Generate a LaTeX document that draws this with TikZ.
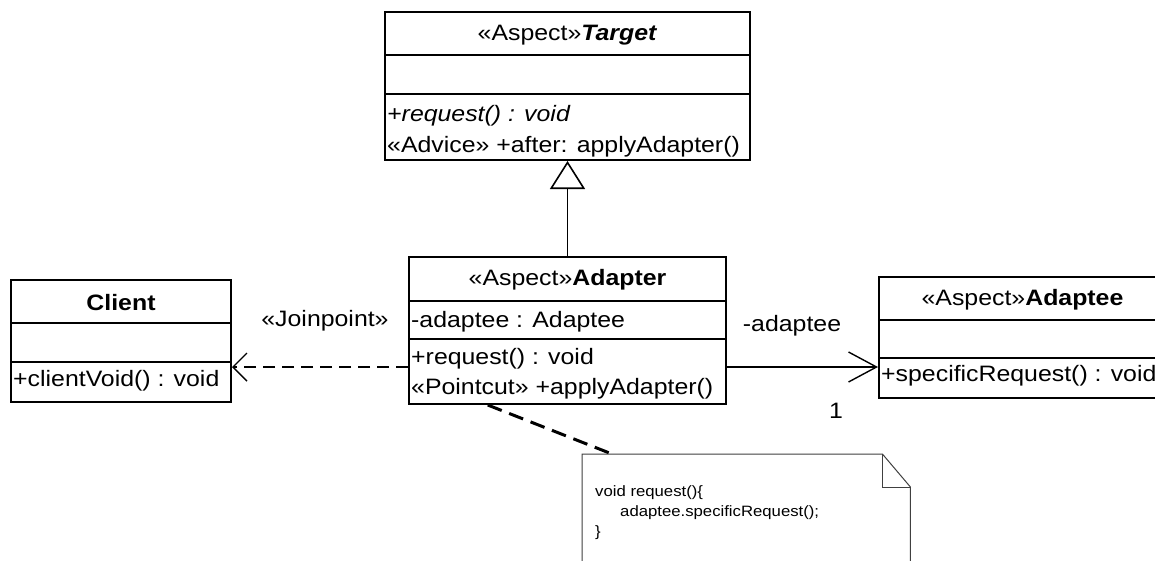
\documentclass[tikz,border=0pt]{standalone}
\usepackage{fontspec}
\setmainfont{Liberation Sans}[FakeStretch=1.115]
\usetikzlibrary{arrows.meta,calc}
\begin{document}
\begin{tikzpicture}[x=1pt,y=-1pt,
  classbox/.style={draw=black,line width=2pt,inner sep=0pt},
  divider/.style={draw=black,line width=2pt},
  lbl/.style={inner sep=0pt,font=\fontsize{22.3}{26}\selectfont},
  lblw/.style={lbl,anchor=base west},
  lblc/.style={lbl,anchor=base},
  notetxt/.style={inner sep=0pt,anchor=base west,font=\fontsize{15}{18}\selectfont},
  thinline/.style={line width=1.3pt},
  dashline/.style={line width=2.5pt,dash pattern=on 12pt off 7pt},
  notedash/.style={line width=3pt,dash pattern=on 15pt off 8pt},
  notebox/.style={draw=black!75,line width=1pt}
]
\useasboundingbox (0,0) rectangle (1155,560);
\clip (0,0) rectangle (1155,560);
\fill[white] (0,0) rectangle (1155,560);

% Target
\node[classbox,minimum width=365pt,minimum height=148pt] (target) at (567.5,86) {};
\draw[divider] ($(target.north west)+(0,44)$) -- ($(target.north east)+(0,44)$);
\draw[divider] ($(target.north west)+(0,83)$) -- ($(target.north east)+(0,83)$);
\node[lblc] (targetT) at (567.5,40) {«Aspect»\textbf{\textit{Target}}};
\node[lblw] (targetM1) at (387,121) {\textit{+request() : void}};
\node[lblw] (targetM2) at (387,152.5) {«Advice» +after: applyAdapter()};

% Adapter
\node[classbox,minimum width=317pt,minimum height=147pt] (adapter) at (567.5,330.5) {};
\draw[divider] ($(adapter.north west)+(0,45)$) -- ($(adapter.north east)+(0,45)$);
\draw[divider] ($(adapter.north west)+(0,83)$) -- ($(adapter.north east)+(0,83)$);
\node[lblc] (adapterT) at (567.5,285) {«Aspect»\textbf{Adapter}};
\node[lblw] (adapterA) at (411,327) {-adaptee : Adaptee};
\node[lblw] (adapterM1) at (411,364.5) {+request() : void};
\node[lblw] (adapterM2) at (411,394) {«Pointcut» +applyAdapter()};

% Client
\node[classbox,minimum width=220pt,minimum height=122pt] (client) at (121,341) {};
\draw[divider] ($(client.north west)+(0,44)$) -- ($(client.north east)+(0,44)$);
\draw[divider] ($(client.north west)+(0,83)$) -- ($(client.north east)+(0,83)$);
\node[lblc] (clientT) at (121,310) {\textbf{Client}};
\node[lblw] (clientM) at (13,386.5) {+clientVoid() : void};

% Adaptee
\node[classbox,minimum width=287pt,minimum height=121pt] (adaptee) at (1022.5,337.5) {};
\draw[divider] ($(adaptee.north west)+(0,44)$) -- ($(adaptee.north east)+(0,44)$);
\draw[divider] ($(adaptee.north west)+(0,82)$) -- ($(adaptee.north east)+(0,82)$);
\node[lblc] (adapteeT) at (1022.5,305) {«Aspect»\textbf{Adaptee}};
\node[lblw] (adapteeM) at (881,381.5) {+specificRequest() : void};

% Connectors
\coordinate (ylev) at (0,367);
\draw[thinline,-{Triangle[open,length=28pt,width=35pt,line width=1.6pt]}] (adapter.north) -- (target.south);
\draw[dashline,-{Straight Barb[length=14pt,width=28pt,line width=1.4pt]}] (adapter.west |- ylev) -- (client.east |- ylev);
\draw[thinline,-{Straight Barb[length=28pt,width=30pt,line width=1.4pt]}] (adapter.east |- ylev) -- (adaptee.west |- ylev);

\node[lblc] (jp) at (325,326) {«Joinpoint»};
\node[lblc] (role) at (792,331.5) {-adaptee};
\node[lblc] (mult) at (836,418) {1};

% Note
\node[inner sep=0pt,minimum width=328pt,minimum height=150pt,anchor=north west] (note) at (582,454) {};
\draw[notebox] (note.south west) -- (note.north west) -- ($(note.north east)+(-28,0)$) -- ($(note.north east)+(0,33)$) -- (note.south east);
\draw[notebox] ($(note.north east)+(-28,0)$) -- ($(note.north east)+(-28,33)$) -- ($(note.north east)+(0,33)$);
\draw[notedash] ($(adapter.south west)!0.25!(adapter.south east)$) -- ($(note.north west)+(30,0)$);
\node[notetxt] (n1) at (595,496) {void request()\{};
\node[notetxt] (n2) at (620,516) {adaptee.specificRequest();};
\node[notetxt] (n3) at (595,536) {\}};
\end{tikzpicture}
\end{document}
